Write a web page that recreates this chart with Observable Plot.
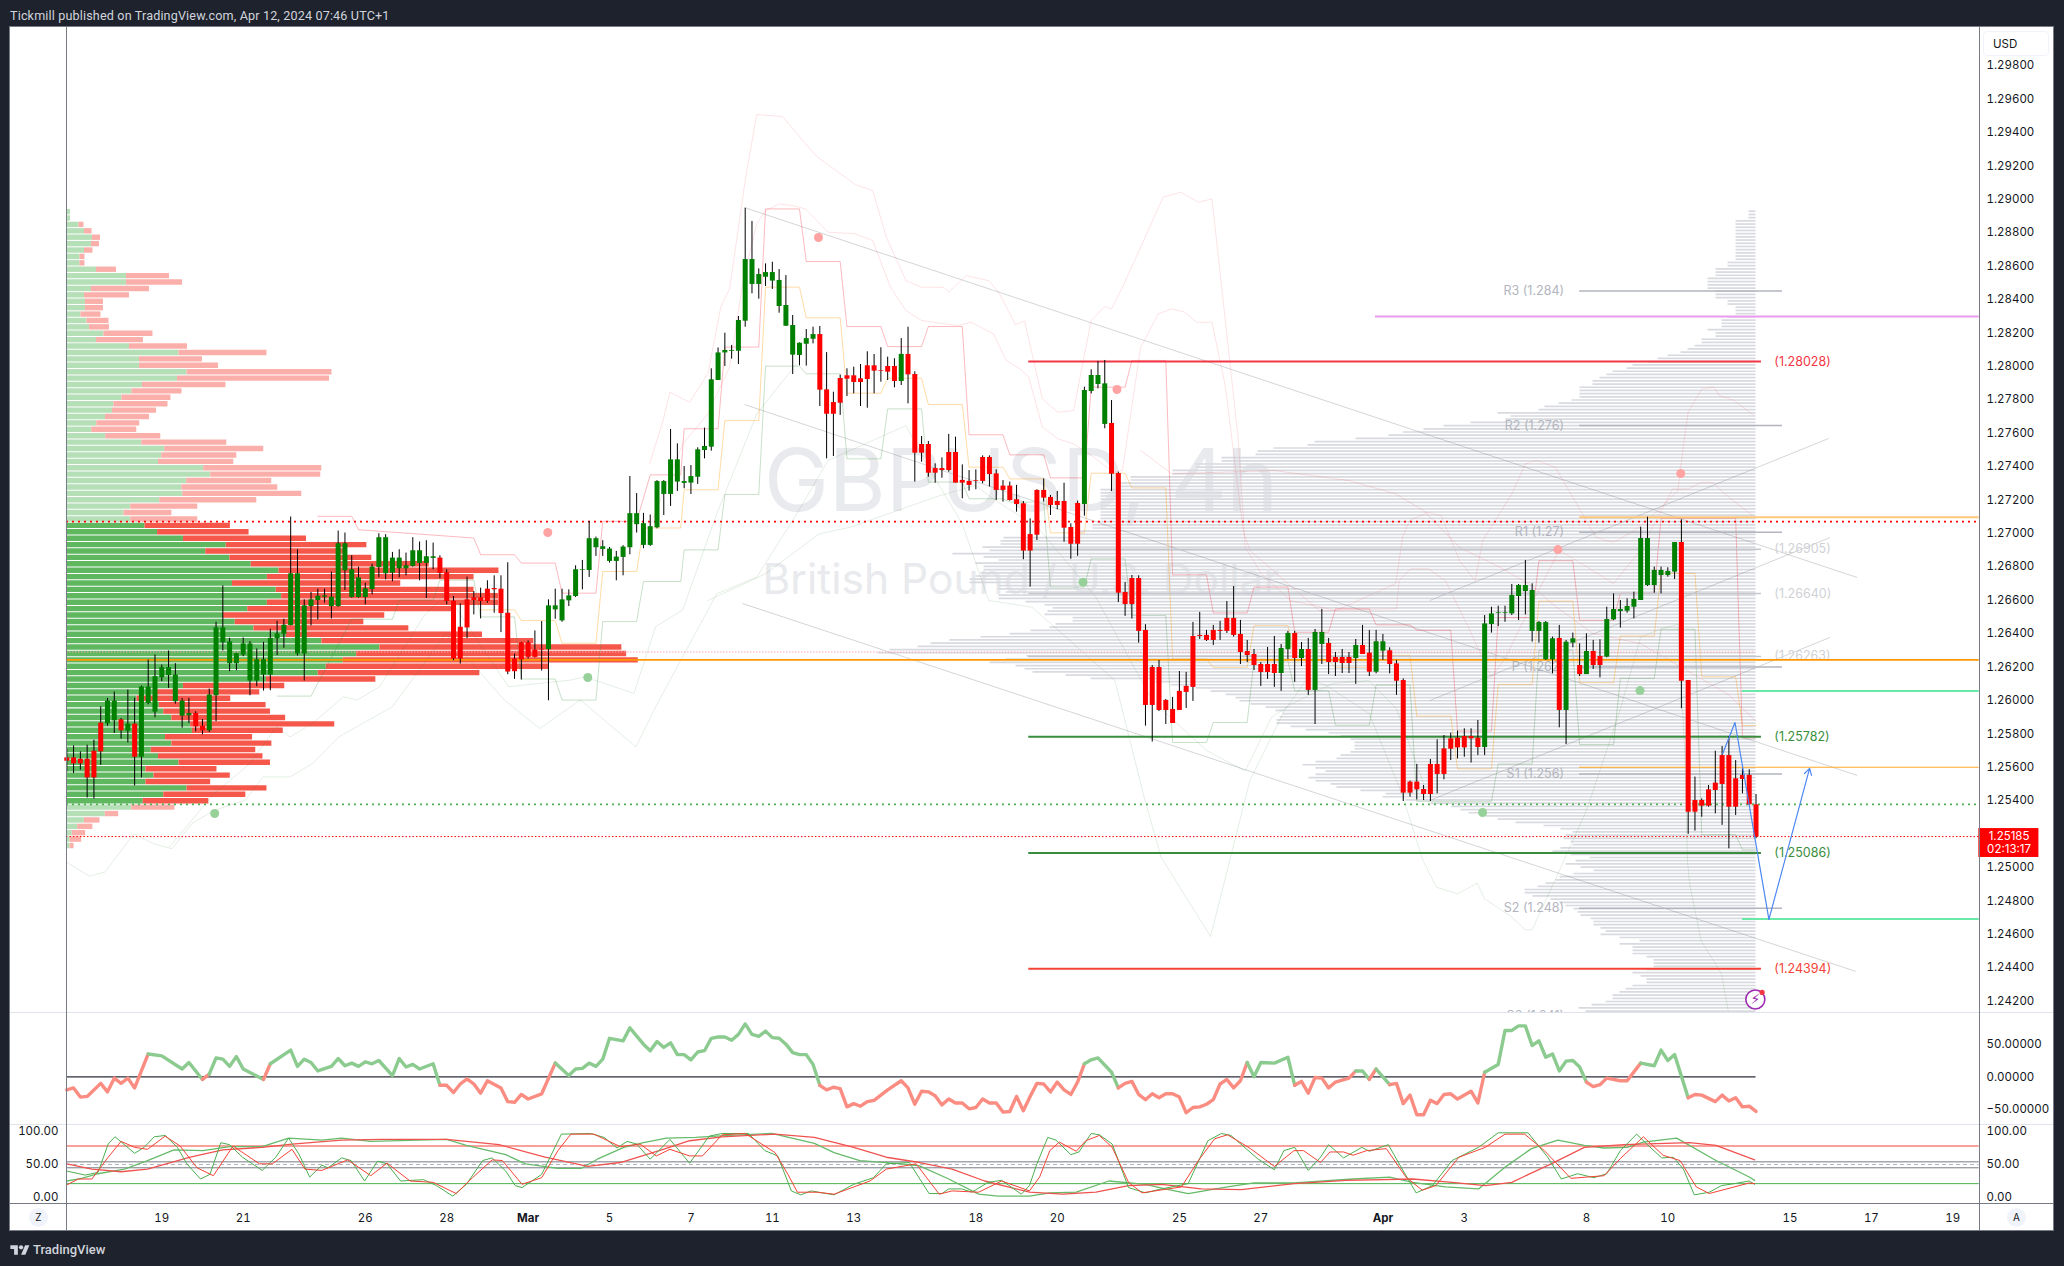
<!DOCTYPE html>
<html><head><meta charset="utf-8">
<script src="https://cdn.jsdelivr.net/npm/d3@7"></script>
<script src="https://cdn.jsdelivr.net/npm/@observablehq/plot@0.6"></script>
<style>
html,body{margin:0;padding:0;background:#1e222d;width:2064px;height:1266px;overflow:hidden;font-family:Inter,sans-serif}
.abs{position:absolute}
#chart{left:10px;top:27px;width:2043px;height:1203px;background:#fff}
</style></head><body>
<div class="abs" style="left:10px;top:8px;color:#d1d4dc;font:12.6px Roboto,sans-serif;letter-spacing:.15px;white-space:nowrap">Tickmill published on TradingView.com, Apr 12, 2024 07:46 UTC+1</div>
<div class="abs" id="chart"></div>
<div class="abs" id="panels" style="left:0;top:0;width:2064px;height:1266px"></div>
<div class="abs" style="left:9px;top:26px;width:2043px;height:1203px;border:1px solid #787b86;pointer-events:none"></div>
<div class="abs" style="left:10px;top:1012px;width:2043px;height:1px;background:#e0e3eb"></div>
<div class="abs" style="left:10px;top:1124px;width:2043px;height:1px;background:#e0e3eb"></div>
<div class="abs" style="left:10px;top:1203px;width:2043px;height:1px;background:#787b86"></div>
<div class="abs" style="left:65.5px;top:27px;width:1px;height:1203px;background:#787b86"></div>
<div class="abs" style="left:1979px;top:27px;width:1px;height:1203px;background:#787b86"></div>
<div class="abs" style="left:1983px;top:31px;width:66px;height:25px;background:#fff;border:1px solid #f0f3fa;border-radius:4px;color:#131722;font-size:11.5px;line-height:25px;text-indent:9px;box-sizing:border-box">USD</div>
<div class="abs" style="left:29px;top:1208px;width:19px;height:19px;border-radius:50%;background:#f0f3fa;color:#131722;font-size:10px;line-height:19px;text-align:center">Z</div>
<div class="abs" style="left:2007px;top:1208px;width:19px;height:19px;border-radius:50%;background:#f0f3fa;color:#131722;font-size:10px;line-height:19px;text-align:center">A</div>
<svg class="abs" style="left:10px;top:1243px" width="20" height="15" viewBox="0 0 36 28"><path fill="#d1d4dc" d="M14 22H7V11H0V4h14v18zM28 22h-8l7.5-18h8L28 22z"/><circle fill="#d1d4dc" cx="20" cy="8" r="4"/></svg>
<div class="abs" style="left:33px;top:1242px;color:#d1d4dc;font:500 13px Roboto,sans-serif">TradingView</div>
<script>
// Candles, in 1/100000 of a dollar
const bodyTop=[125656,125656,125648,125648,125696,125864,125996,125996,125884,125858,125858,126080,126080,126142,126196,126196,126152,125996,125922,125922,125846,126032,126434,126434,126350,126280,126338,126338,126244,126244,126372,126398,126450,126758,126758,126566,126602,126624,126626,126618,126938,126938,126782,126734,126668,126798,126974,126974,126852,126852,126806,126896,126896,126860,126860,126852,126764,126594,126438,126602,126614,126614,126666,126670,126666,126522,126248,126344,126344,126302,126306,126566,126566,126602,126626,126782,126782,126968,126968,126920,126906,126858,126918,127118,127118,127058,127040,
127310,127310,127440,127440,127310,127340,127500,127520,127919,128080,128095,128095,128274,128639,128639,128549,128561,128561,128514,128364,128244,128138,128166,128190,128190,127859,127783,127927,127943,127943,127925,128003,128003,127975,127999,127999,128071,128071,127951,127532,127532,127388,127388,127484,127484,127317,127311,127315,127454,127454,127356,127283,127283,127201,127177,126993,127257,127257,127215,127191,127191,127035,127179,127855,127945,127945,127895,127658,127358,
126646,126730,126730,126419,126197,126197,126000,125946,126054,126084,126383,126389,126389,126419,126419,126491,126491,126395,126293,126275,126215,126215,126215,126311,126401,126401,126305,126305,126407,126407,126341,126257,126257,126257,126329,126329,
126283,126351,126351,126297,126219,126119,125511,125511,125467,125617,125617,125710,125770,125774,125784,125784,125774,126458,126518,126526,126526,126628,126688,126688,126658,126466,126466,126369,126371,126349,126369,126209,126293,126293,126263,126484,126544,126544,126562,126604,126969,126969,126778,126778,126772,126945,126945,126119,125401,125401,125465,125505,125670,125670,125531,125551,125551,125375];
const bodyBottom=[125636,125620,125620,125536,125536,125692,125860,125878,125818,125816,125660,125660,125982,125930,126136,126148,125992,125906,125908,125842,125818,125818,126028,126346,126220,126220,126272,126116,126116,126152,126152,126370,126396,126448,126278,126278,126562,126598,126618,126562,126562,126776,126616,126616,126616,126664,126796,126758,126762,126788,126788,126802,126820,126820,126850,126760,126592,126248,126248,126434,126598,126592,126592,126662,126520,126170,126172,126242,126258,126258,126302,126304,126542,126476,126596,126622,126778,126778,126914,126904,126832,126832,126856,126914,127052,126928,126928,
127033,127233,127233,127307,127299,127301,127336,127496,127516,127915,128080,128090,128090,128270,128490,128490,128533,128510,128358,128240,128067,128065,128132,128162,127857,127713,127713,127779,127923,127903,127903,127921,127971,127971,127965,127909,127909,127949,127480,127480,127360,127360,127376,127376,127301,127301,127287,127311,127311,127352,127257,127257,127197,127173,126894,126894,126989,127211,127167,127167,127031,126935,126935,127173,127849,127891,127652,127354,126642,
126574,126574,126413,125970,125970,125940,125940,125862,125940,126048,126078,126383,126359,126359,126413,126413,126389,126287,126269,126209,126167,126167,126161,126161,126305,126251,126251,126060,126060,126335,126227,126227,126221,126221,126251,126275,
126169,126169,126295,126215,126115,125445,125445,125465,125437,125437,125557,125557,125708,125716,125716,125770,125718,125718,126454,126522,126522,126518,126622,126652,126413,126413,126243,126243,125940,125940,126343,126155,126155,126209,126209,126259,126482,126532,126534,126558,126598,126688,126688,126748,126748,126768,126115,125331,125331,125367,125367,125461,125497,125361,125361,125527,125375,125182];
const high=[125708,125728,125692,125732,125762,125962,126012,126050,125892,126062,126014,126086,126242,126272,126212,126296,126220,126012,126012,125932,125886,126068,126468,126686,126372,126282,126374,126352,126308,126348,126426,126474,126486,127098,126902,126602,126646,126666,126666,126768,127014,127002,126866,126798,126702,126816,126998,126992,126886,126902,126882,126974,126948,126956,126942,126866,126782,126622,126578,126738,126652,126672,126716,126746,126746,126824,126278,126348,126356,126416,126472,126602,126666,126666,126662,126806,126838,127072,126978,126956,126916,126892,126926,127340,127238,127120,127110,
127316,127316,127622,127536,127400,127406,127512,127630,127985,128110,128198,128125,128298,128946,128867,128583,128613,128623,128579,128543,128304,128140,128220,128234,128238,128082,127845,127947,127985,127995,128011,128087,128071,128111,128055,128045,128166,128234,127967,127580,127550,127416,127452,127592,127576,127410,127376,127380,127464,127464,127380,127316,127307,127287,127191,127087,127261,127326,127227,127251,127300,127057,127193,127875,127979,128029,128035,127795,127366,
126706,126748,126746,126453,126209,126239,126006,126018,126173,126168,126467,126527,126419,126449,126473,126592,126682,126479,126359,126305,126227,126317,126383,126335,126413,126413,126347,126371,126425,126545,126371,126287,126305,126287,126365,126449,
126419,126419,126395,126315,126239,126129,125517,125617,125491,125647,125764,125790,125804,125816,125830,125830,125880,126508,126558,126564,126564,126694,126694,126838,126698,126472,126472,126379,126449,126359,126403,126339,126399,126359,126363,126558,126638,126598,126608,126648,127037,127097,126798,126798,126794,126945,127081,126119,125541,125411,125491,125696,125724,125784,125640,125591,125585,125437];
const low=[125572,125562,125582,125416,125410,125612,125846,125802,125768,125746,125488,125536,125974,125896,126112,126072,125978,125834,125862,125812,125794,125808,125872,126296,126172,126178,126262,126028,126082,126056,126058,126268,126312,126446,126266,126116,126446,126482,126582,126488,126558,126658,126612,126612,126572,126632,126734,126722,126710,126734,126746,126798,126716,126610,126782,126728,126572,126238,126218,126370,126512,126488,126582,126522,126406,126154,126126,126122,126248,126254,126176,125998,126486,126468,126562,126616,126662,126736,126862,126862,126822,126716,126746,126872,127002,126908,126922,
127027,127107,127161,127251,127267,127233,127293,127446,127492,127915,127999,128043,128011,128234,128434,128402,128478,128460,128318,128238,127951,128003,128001,128134,127759,127446,127460,127706,127819,127835,127759,127749,127835,127905,127915,127871,127885,127775,127307,127426,127336,127300,127330,127366,127301,127207,127253,127261,127297,127277,127197,127187,127193,127127,126842,126678,126957,127187,127107,127141,126947,126845,126863,127103,127835,127865,127626,127251,126586,
126503,126487,126343,125846,125751,125934,125856,125862,125940,125952,125994,126365,126353,126329,126359,126401,126379,126215,126227,126179,126084,126126,126078,126054,126245,126108,126203,126030,125856,126215,126155,126143,126161,126161,126096,126275,
126143,126159,126239,126159,126030,125395,125421,125405,125401,125395,125441,125525,125640,125650,125660,125625,125670,125670,126403,126442,126468,126508,126478,126512,126349,126343,126239,126159,125836,125736,126315,126143,126155,126185,126135,126255,126478,126433,126522,126488,126598,126682,126642,126638,126738,126724,125950,125198,125218,125301,125361,125321,125252,125112,125311,125441,125371,125172];
const candleColourRuns=[["r",6],["g",2],["r",1],["g",1],["r",1],["g",8],["r",2],["g",34],["r",16],["g",40],["r",12],["g",1],["r",26],["g",4],["r",25],["g",2],["r",1],["g",1],["r",1],["g",2],["r",4],["g",1],["r",2],["g",2],["r",14],["g",11],["r",1],["g",2],["r",1],["g",1],["r",2],["g",11],["r",12]];

// Session volume profile on the left: up volume, down volume per price bin
const sessionBinTop=1.28926, sessionBinStep=0.0003833;
const upVolume=[4,4,12.5,18,26,25,18,13.5,13.5,30,60,60,25,18,19,19,14.5,20.5,23,37.5,30,63,112.5,73,73,120.5,111,76,65.5,55.5,47.5,46,39,30.3,25.3,39.3,75.3,98.3,95.3,92,137.3,144.3,120.3,115.3,116.3,93.3,64.3,57.6,64.3,78.6,91.1,117,159.8,139.3,163.4,184.8,212.5,200.9,166,209.8,215.2,200.9,181.3,157.1,168.8,187.5,220,255.4,313.4,290.2,276.8,259.8,251.8,200,117,90.6,70.5,92.9,97.3,105.4,124.1,125.9,99.1,105.4,84.8,92,112.5,79.5,87.5,79.5,120.5,97.3,76.8,65.2,38.8,17.9,11.2,5.8,3.6,3.6];
const downVolume=[0,0,5,7.6,8,8,8.5,5,5,20,43,56,58,45,18,18,20,22,20,49,47,58,88,63,79,145,152,83.5,50,49,54,44,44,43,45,55,85,99,75,75.3,118,110,85,96,119,97,67,47.8,67,85.3,91.5,123,140.6,138.4,142,178,220,206.7,168.3,197.8,217,231.3,204,161.2,128.6,154.9,196,212,242,270,295,222.8,161.6,109.4,101.3,102.7,93.8,106.7,106.7,113.8,144.2,90.9,87,100,104.5,104.5,91.5,71,76.3,64.7,80,82.1,65.6,43.3,13.4,15.6,15.2,13.4,11.6,4];
const valueAreaFirstBin=49, valueAreaLastBin=92;

// Fixed-range volume profile on the right
const rangeBinTop=1.28928, rangeBinStep=0.0001915;
const rangeVolume=[7,7,7,20,20,20,20,20,20,20,20,20,20,20,20,20,28,28,40,40,40,48,48,48,48,40,40,40,28,28,20,20,20,28,34,34,34,48,40,40,54,54,61,68,75,88,98,108,123,129,143,149,156,163,163,176,176,176,176,184,197,211,217,258,245,250,285,312,332,353,367,400,441,448,482,498,500,534,534,560,560,583,583,625,625,640,640,655,655,655,655,655,655,655,655,655,655,655,663,663,677,677,752,755,755,773,766,803,772,757,
780,772,772,775,780,786,786,757,757,750,757,757,730,711,703,708,711,683,683,700,706,725,746,775,806,825,838,866,878,729,750,766,740,731,723,690,665,600,585,560,545,530,520,516,505,490,480,473,476,479,479,465,450,427,415,405,401,401,401,405,415,419,440,453,440,430,440,447,440,425,419,395,370,373,350,325,304,295,287,270,258,240,212,195,183,190,192,185,183,195,203,185,166,180,190,175,162,182,196,200,210,218,231,231,223,205,196,190,182,178,175,165,162,162,155,150,155,136,116,136,123,123,123,109,102,102,102,110,123,115,109,109,123,130,136,143,143,150,164,177,170];

// Horizontal levels
const levelValues=[1.28028,1.25782,1.25086,1.24394];
const levelColours=["#f23645","#388e3c","#388e3c","#f44336"];
const fadedLevelValues=[1.26905,1.2664,1.26263];
const pivotNames=["R3 (1.284)","R2 (1.276)","R1 (1.27)","P (1.262)","S1 (1.256)","S2 (1.248)","S3 (1.241)"];
const pivotValues=[1.2845,1.27645,1.27006,1.262,1.2556,1.24756,1.2411];
const mainOrange=1.26243, redDotted=1.2707, greenDotted=1.25378, lastPrice=1.25185, pinkDotted=1.2629;
const magentaLevel=1.28298, softOrange=1.27096, thinOrange=1.256, tealLevels=[1.26056,1.24691];

// Pale envelopes and stepped channels: [bar, price]
const upperEnvelope=[[85.9,127415],[87.9,127676],[88.9,127845],[91.8,127785],[94.5,127955],[96.4,128354],[97.7,128464],[100,129112],[101.7,129507],[105.5,129495],[110.4,129261],[116.2,129088],[118.8,129052],[120.8,128773],[123.7,128513],[126,128473],[129.3,128473],[130,128444],[132.6,128543],[135.9,128513],[137.5,128434],[139.8,128250],[141.2,128270],[143.8,127805],[146.1,127725],[148.4,127735],[151,128274],[153,128358],[154,128344],[155.6,128473],[158.3,128713],[161.6,129012],[164.2,129042],[166.8,128982],[168.8,129002],[170.4,128414],[172.7,127554],[173.7,126917],[176.1,126758],[180.4,126598],[187.1,126538],[195.9,126700],[196.9,126976],[197.9,127076],[200.6,127126],[202.6,127106],[205.3,126836],[207.6,126716],[208.7,126956],[213,127236],[215,127416],[216.7,127436],[219.4,127396],[222,127216],[225.4,126976],[228,126946],[231,127016],[234,127116],[237.5,127256],[238.3,127526],[239,127725],[241,127865],[242.8,127875],[243.6,127825],[245.8,127795],[248.7,127705]];
const innerEnvelope=[[85.9,127037],[90.8,127536],[94.5,127715],[97.7,127995],[99.7,128514],[101.7,128853],[103,128932],[105,128972],[107,128962],[108.9,128942],[112.2,128803],[116.2,128793],[118.8,128753],[121.4,128474],[123.7,128334],[126,128274],[131.3,128244],[133.3,128264],[136.6,128194],[138.5,128035],[140.5,127985],[141.8,127935],[143.8,127636],[146.1,127566],[148.4,127536],[150.7,127476],[154.3,127366],[155.6,127376],[158.3,128115],[160.9,128314],[162.9,128344],[164.8,128324],[166.5,128264],[168.8,128264],[170.8,127875],[173.4,127017],[174.4,126897],[184.6,126538],[196,126548],[196.4,126718],[198.1,126788],[200.7,126788],[203.2,126718],[206.6,126438],[210,126139],[212,126250],[215,126500],[220,126900],[228,126700],[232,126900],[236.7,127266],[239,127266],[241,127306],[242.6,127306],[244.7,127226],[248.5,127107]];
const basisEnvelope=[[158.3,127496],[162.9,127356],[178,127376],[189,127316],[195.9,127236],[200,127136],[205.3,126916],[211.3,126796],[216,126686],[219,126576],[225,126400],[232,126340],[244.9,126036],[249,125876]];
const lowerEnvelope=[[0,125032],[3.3,124948],[5.6,124972],[9.9,125202],[12.8,125142],[15.5,125112],[18.4,125262],[21.7,125342],[26.3,125402],[28.9,125542],[32.9,125542],[36.2,125622],[40.1,125782],[48,125962],[55.9,126402],[64.5,126002],[69.7,125832],[75.7,126002],[83.9,125722],[86.8,125962],[95.8,126638],[101.7,126738],[107.6,127117],[112.2,127436],[118.8,127556],[123.7,127645],[126.7,127416],[132,127057],[135.9,126598],[142.3,126558],[154.5,126119],[158.8,125421],[161.3,125061],[168.6,124587],[174.4,125521],[179.5,125940],[183,126139],[186,126080],[192,125920],[196.8,125441],[199.9,125042],[201.9,124882],[205,124842],[207.9,124906],[209,124813],[213,124703],[215,124627],[216,124627],[220.7,125042],[224,125341],[228.8,125920],[232,126379],[234.8,126426],[237.5,126456],[238.5,125700],[238.9,125042],[239.2,124903],[240.9,124563],[243.9,124364],[244.9,124144]];
const secondLowerEnvelope=[[15.1,125122],[21.7,125442],[27,125622],[30.9,125842],[32.9,125782],[36.2,125862],[40.8,126022],[42.8,126002],[46.1,126082],[52.6,126502],[55.9,126642],[65.1,126082],[74.3,126122],[76.3,126142],[83.6,126042],[86.8,126442],[90.8,126542],[95.8,127117],[101.7,127715],[105.6,127915],[107.6,128015]];
const thirdLowerEnvelope=[[94.5,126598],[103,126758],[110.9,126997],[115.5,127037],[128,127217],[133.9,127287],[136.9,127197],[143.1,127037],[151.7,126617],[160,126000],[168,125700],[173.7,125578],[177.6,125900],[180.6,125980],[186.5,126100],[191.9,126120],[196,125950],[200,125500]];
// [first bar, last bar, price]
const stepUpper=[[37,42,127102],[43,43,127022],[60,60,126972],[61,66,126872],[67,72,126822],[73,78,126642],[79,84,127072],[86,90.5,127350],[91,96,127626],[97,102,128115],[103,108,128942],[109,114,128627],[115,120,128238],[121,126,128118],[127,132,128238],[133,138,127590],[139,144,127470],[145,150,127332],[151,156,127875],[157,162,128035],[163,168,126752],[169,174,126524],[175,180,126678],[181,186,126408],[187,192,126548],[193,198,126452],[199,204,126420],[205,210,125816],[211,216,126496],[217,222,126836],[223,228,126480],[229,234,126642],[235,246,127090],[247,249,125776]];
const stepMiddle=[[61,66,126542],[67,72,126478],[73,78,126342],[79,84,126772],[85,90.5,127032],[91,96,127261],[97,102,127675],[103,108,128474],[109,114,128290],[115,120,127839],[121,126,127929],[127,132,127771],[133,138,127396],[139,144,127326],[145,150,127003],[151,156,127360],[157,162,127272],[163,168,126248],[169,174,126198],[175,180,126448],[181,186,126238],[187,192,126198],[193,198,126270],[199,204,125906],[205,210,125590],[211,216,126096],[217,222,126594],[223,228,126106],[229,234,126386],[235,240,126760],[241,246,126142],[247,249,125850]];
const stepLower=[[31,36,126026],[42,48,126486],[49,54,126600],[55,60,126720],[61,66,126500],[67,72,126128],[73,78,126002],[79,84,126472],[85,90.5,126712],[91,96,126901],[97,102,127233],[103,108,128001],[109,114,127955],[115,120,127446],[121,126,127745],[127,132,127307],[133,138,127207],[139,144,127187],[145,150,126678],[151,156,126848],[157,162,126508],[163,168,125748],[169,174,125868],[175,180,126238],[181,186,126058],[187,192,125852],[193,198,126092],[199,204,125396],[205,210,125396],[211,216,125620],[217,222,126300],[223,228,125736],[229,234,126132],[235,240,126426],[241,246,125196],[247,249,125106]];
// Trend lines: [bar, price, bar, price]
const trendLines=[[99.9,128950,263.9,126736],[99.9,127771,263.9,125551],[99.6,126580,263.7,124378],[200.9,126598,259.7,127568],[200.9,125999,259.9,126975],[200.9,125401,259.9,126377]];
const forecastPath=[[244.1,125682],[245.9,125868],[250.9,124689]];
const forecastArrow=[250.9,124689,256.9,125593];
const redMarkers=[[110.8,128771],[154.8,127861],[70.9,127005],[219.8,126903],[237.9,127358]];
const greenMarkers=[[21.8,125323],[76.8,126137],[149.8,126708],[231.9,126059],[208.7,125329]];

// Momentum oscillator
const oscillator=[[0,-20],[1,-17],[2,-31],[3,-30],[5,-10],[6,-23],[7,-2],[8,-10],[9,-2],[10,-17],[12,35],[14,32],[17,12],[18,22],[20,-4],[21,4],[22,29],[23,27],[24,16],[25,31],[26,12],[29,-4],[30,20],[33,41],[34,16],[35,27],[36,22],[37,9],[39,16],[40,28],[41,17],[42,21],[43,16],[44,23],[45,20],[46,25],[48,2],[49,28],[50,15],[51,19],[52,12],[54,20],[55,-13],[56,-13],[57,-24],[58,-11],[59,-3],[60,-11],[61,-25],[62,-6],[64,-17],[65,-38],[66,-39],[67,-27],[68,-34],[70,-26],[72,21],[74,2],[75,12],[76,13],[77,21],[78,16],[79,27],[80,59],[82,55],[83,75],[85,50],[86,40],[87,54],[88,45],[89,52],[90,34],[91,34],[92,26],[93,38],[94,40],[95,59],[96,61],[97,61],[98,56],[99,65],[100,81],[101,65],[102,62],[103,70],[104,60],[105,59],[106,50],[107,37],[108,34],[109,34],[110,19],[111,-13],[112,-20],[113,-16],[114,-18],[115,-46],[116,-41],[117,-45],[118,-38],[119,-36],[121,-20],[123,-6],[124,-17],[125,-42],[126,-22],[127,-23],[128,-29],[129,-43],[130,-34],[131,-40],[132,-40],[133,-49],[134,-47],[135,-34],[136,-40],[137,-40],[138,-54],[139,-53],[140,-30],[141,-52],[142,-30],[143,-10],[144,-11],[145,-23],[146,-8],[147,-20],[148,-27],[149,-8],[150,20],[151,26],[152,29],[154,7],[155,-17],[156,-10],[157,-7],[158,-27],[159,-35],[160,-26],[161,-32],[162,-26],[163,-26],[164,-31],[165,-55],[166,-47],[167,-46],[168,-42],[169,-35],[170,-11],[171,-4],[172,-17],[173,-6],[174,22],[175,0],[176,22],[178,21],[180,30],[181,-13],[182,-7],[183,-25],[184,-1],[185,-2],[186,-17],[187,-8],[189,-2],[190,9],[191,9],[192,-4],[193,12],[195,-12],[196,-10],[197,-41],[198,-28],[199,-58],[200,-58],[201,-36],[202,-41],[203,-27],[204,-26],[205,-34],[207,-22],[208,-40],[209,7],[211,19],[212,71],[213,71],[214,78],[215,78],[216,48],[217,55],[218,30],[219,35],[220,9],[221,24],[222,25],[223,15],[224,-8],[225,-15],[226,-12],[227,-2],[229,-6],[230,-6],[232,21],[234,17],[235,41],[236,25],[237,34],[239,-32],[240,-27],[241,-28],[243,-38],[244,-28],[245,-37],[246,-32],[247,-46],[248,-45],[249,-53]];

// Stochastic panel
const stochFastGreen=[[0,40],[2.7,34],[4.6,38],[6.1,81],[7.1,92],[10,67],[11.4,76],[12.9,92],[14.5,94],[16.3,76],[17.7,51],[19.7,28],[21.1,35],[22.7,83],[24,80],[25.9,61],[28.8,41],[30.8,61],[32.7,90],[34.2,66],[35.8,31],[37.6,49],[38.5,45],[40.5,60],[41.9,56],[43.9,25],[45.8,55],[47.2,51],[49.2,25],[52.6,27],[54.5,18],[56.9,2],[58.9,20],[61.3,56],[62.7,60],[64.7,40],[66.1,18],[67.1,15],[70,35],[72.9,96],[77.2,97],[79.2,91],[81.1,75],[82.6,85],[84,81],[86,58],[88.9,88],[91.8,52],[94.7,93],[96.6,97],[100.5,97],[102.9,71],[104.8,63],[106.8,10],[108.2,4],[109.7,10],[113.1,4],[116,20],[118.9,30],[120.8,51],[124.2,53],[127.1,6],[129,6],[130,13],[131.9,13],[133.4,8],[135.8,23],[137.8,26],[140.7,5],[141.9,18],[143,51],[144.6,91],[145.8,87],[148,65],[149.2,69],[151,97],[152.2,95],[154.1,81],[156.5,15],[159,7],[160.9,12],[165.3,21],[168.2,86],[170.2,97],[171.6,94],[175.5,59],[178,42],[179.4,71],[181,76],[183,41],[184.8,61],[186,80],[188.2,60],[190.9,76],[192,70],[194.8,80],[196.4,51],[198.9,7],[201.3,18],[204.2,56],[208.1,76],[211,98],[215.4,98],[218.3,61],[220.3,28],[222.7,36],[225.1,30],[227,36],[229,71],[231.4,96],[232.9,81],[235.1,60],[236.8,61],[238.3,43],[239.9,4],[242.1,8],[243.9,18],[245.8,21],[248,25],[248.8,20]];
const stochFastRed=[[0,19],[1.7,28],[3.7,28],[6.1,61],[8,85],[10,76],[11.9,73],[14.5,93],[16.7,78],[19.2,45],[21.6,33],[24.5,78],[28.4,51],[30.3,51],[33.2,73],[35.1,43],[37.6,41],[41.4,57],[44.8,33],[47.2,52],[50.6,25],[54,23],[57.4,6],[59.8,30],[62.7,57],[64.2,56],[67.1,20],[70,30],[72.4,71],[74.3,96],[77.7,96],[81.6,77],[84.5,81],[86.9,63],[88.9,73],[91.8,63],[93.7,63],[96.6,95],[100,97],[104.4,68],[106.3,35],[107.7,8],[110.6,8],[113.1,5],[118.4,25],[120.8,43],[125.2,51],[128.6,5],[130.5,10],[134.4,8],[137.8,25],[141.9,10],[143.4,31],[144.9,71],[146.3,84],[148.8,70],[150.2,86],[152.2,94],[154.1,76],[156.5,23],[158.5,7],[164.3,16],[166.8,56],[169.2,89],[171.1,95],[174.5,74],[178,47],[180.9,71],[182.3,71],[184.8,53],[186.2,69],[188.2,69],[189.6,64],[191.6,71],[194.5,74],[197.4,31],[199.8,11],[201.8,18],[205.2,61],[209.1,76],[212,96],[214.9,96],[217.8,71],[221.7,29],[226.6,33],[229,59],[232.4,92],[235.3,64],[237.8,56],[240.2,16],[242.1,6],[248,22],[248.8,21]];
const stochSlowGreen=[[0,25],[2.2,29],[4.6,36],[8.5,43],[11.9,56],[15.8,72],[20.1,71],[24,77],[28.8,77],[32.7,90],[37.6,87],[40.5,90],[44.8,85],[56,88],[58.9,79],[64.7,65],[67.6,51],[72.4,44],[75.8,44],[78.2,58],[82.1,76],[85,83],[88.4,90],[92.7,91],[97.6,94],[103.9,97],[110.2,82],[113.1,68],[116.9,56],[121.8,52],[125.7,48],[130,28],[134.4,5],[137.3,2],[141.9,2],[144.9,7],[148.8,8],[153.6,25],[159,20],[161.9,13],[165.3,6],[171.1,16],[175,22],[180.9,22],[189.6,28],[195,31],[198.4,23],[203.2,16],[208.1,13],[212,46],[215.9,74],[219.8,87],[223.7,79],[226.6,75],[230,76],[232.4,84],[237.3,90],[243.1,56],[248,31],[248.8,26]];
const stochSlowRed=[[0,51],[3.7,43],[8,39],[11.9,43],[18.2,61],[23,72],[28.8,76],[33.2,81],[40.5,87],[46.3,88],[56,88],[63.7,80],[70.5,61],[76.8,47],[81.6,53],[87.9,73],[91.8,86],[96.6,92],[104.4,96],[110.2,91],[116,76],[120.8,61],[125.7,53],[130.5,43],[135.3,25],[141.9,8],[146.8,5],[151.7,8],[156.5,18],[161.4,20],[167.2,13],[173.1,12],[180.9,21],[188.6,26],[198.4,28],[204.2,23],[209.1,18],[213,23],[218.8,51],[223.7,76],[229.5,80],[239.2,83],[243.1,79],[248.8,57]];
const stochUpper=78, stochLower=21, stochBandHigh=54, stochBandLow=45, stochMiddle=50;

// Axis labels
const priceTicks=d3.range(1.242,1.2985,0.002);
const dateLabels=["19","21","26","28","5","7","11","13","18","20","25","27","3","8","10","15","17","19"];
const dateTickBars=[14,26,44,56,80,92,104,116,134,146,164,176,206,224,236,254,266,278];
const monthTicks=[68,194], monthLabels=["Mar","Apr"];

const BAR_PX=6.784, LEFT=66.3;
const FONT="Inter, sans-serif", LAST=281.9, FIRST=-0.05, LEVEL_END=249.8;
const p5=v=>v/1e5;
const pts=a=>a.map(([i,p])=>({i,p:p5(p)}));
const vals=a=>a.map(([i,v])=>({i,v}));
const steps=a=>a.flatMap(([a1,a2,p])=>[{i:a1,p:p5(p)},{i:a2,p:p5(p)}]);
const colours=candleColourRuns.flatMap(([c,n])=>Array(n).fill(c));
const candles=bodyTop.map((t,i)=>({i,top:p5(t),bot:p5(bodyBottom[i]),hi:p5(high[i]),lo:p5(low[i]),c:colours[i]}));
const sessionRows=upVolume.map((u,k)=>({k,p:sessionBinTop-k*sessionBinStep,u,t:u+downVolume[k],va:k>=valueAreaFirstBin&&k<=valueAreaLastBin}));
const rangeRows=rangeVolume.map((v,k)=>({p:rangeBinTop-k*rangeBinStep,v}));
const xv=v=>FIRST+v/BAR_PX;
const xbase={type:"linear",domain:[0,249],range:[LEFT,LEFT+249*BAR_PX],axis:null};
const baseOpts={width:2064,marginLeft:66,marginRight:85,marginTop:0,marginBottom:0,x:xbase,style:{background:"transparent",fontFamily:FONT,color:"#131722"}};
const hline=(p,o)=>Plot.ruleY([p],{x1:FIRST,x2:LAST,...o});
const thin=(d,s,op)=>Plot.line(d,{x:"i",y:"p",stroke:s,strokeOpacity:op,strokeWidth:1,curve:"linear"});

const main=Plot.plot({...baseOpts,height:984,
  y:{domain:[1.30022,1.24132],range:[0,984],axis:null},
  marks:[
    Plot.axisY({anchor:"right",ticks:priceTicks,tickFormat:d=>d.toFixed(5),tickSize:0,tickPadding:7,fontSize:11.5,label:null,fill:"#131722"}),
    Plot.text(["GBPUSD, 4h"],{frameAnchor:"top",dy:482,lineAnchor:"bottom",fontSize:87,fill:"#e9eaed",dx:-2}),
    Plot.text(["British Pound / U.S. Dollar"],{frameAnchor:"top",dy:565,lineAnchor:"bottom",fontSize:42.5,fill:"#e9eaed",dx:-2}),
    Plot.ruleY(rangeRows,{y:"p",x1:d=>249-d.v/BAR_PX,x2:249,stroke:"#d8dadf",strokeWidth:1.7}),
    Plot.ruleY(sessionRows,{y:"p",x1:FIRST,x2:d=>xv(d.u),stroke:d=>d.va?"#5fb760":"#b5dfb7",strokeWidth:5.4}),
    Plot.ruleY(sessionRows,{y:"p",x1:d=>xv(d.u),x2:d=>xv(d.t),stroke:d=>d.va?"#f6574b":"#fbafaa",strokeWidth:5.4}),
    thin(pts(upperEnvelope),"#f23645",.14),thin(pts(innerEnvelope),"#f23645",.14),thin(pts(basisEnvelope),"#f23645",.16),
    thin(pts(lowerEnvelope),"#2e7d32",.13),thin(pts(secondLowerEnvelope),"#2e7d32",.13),thin(pts(thirdLowerEnvelope),"#2e7d32",.13),
    Plot.link(trendLines,{x1:d=>d[0],y1:d=>p5(d[1]),x2:d=>d[2],y2:d=>p5(d[3]),stroke:"#787b86",strokeOpacity:.32,strokeWidth:1}),
    thin(steps(stepLower),"#388e3c",.28),thin(steps(stepMiddle),"#ff9800",.35),thin(steps(stepUpper),"#f23645",.34),
    Plot.ruleY(pivotValues,{x1:223,x2:252.9,stroke:"#b2b5be",strokeWidth:1.5}),
    Plot.text(pivotValues,{x:220.7,y:d=>d,text:(d,i)=>pivotNames[i],textAnchor:"end",fill:"#b2b5be",fontSize:12.5}),
    Plot.ruleY(fadedLevelValues,{x1:141.8,x2:LEVEL_END,stroke:"#c3c5cc",strokeWidth:1.5}),
    Plot.text(fadedLevelValues,{x:251.7,y:d=>d,text:d=>`(${d.toFixed(5)})`,textAnchor:"start",fill:"#cfd1d6",fontSize:12.5}),
    hline(pinkDotted,{x2:249,stroke:"#f9a8b4",strokeWidth:1,strokeDasharray:"1.5,1.5"}),
    hline(mainOrange,{stroke:"#ff9800",strokeWidth:1.6}),
    hline(lastPrice,{stroke:"#f00",strokeWidth:1,strokeDasharray:"1.5,2"}),
    hline(redDotted,{stroke:"#f00",strokeWidth:1.6,strokeDasharray:"2,4"}),
    hline(greenDotted,{stroke:"#4caf50",strokeWidth:1.6,strokeDasharray:"2,4"}),
    Plot.ruleY([magentaLevel],{x1:192.9,x2:LAST,stroke:"#e99bf0",strokeWidth:2}),
    Plot.ruleY([softOrange],{x1:223,x2:LAST,stroke:"#ffc77a",strokeWidth:2}),
    Plot.ruleY([thinOrange],{x1:223,x2:LAST,stroke:"#ffa726",strokeWidth:1.2}),
    Plot.ruleY(tealLevels,{x1:247,x2:LAST,stroke:"#69e8a8",strokeWidth:2}),
    Plot.ruleY(levelValues,{x1:141.8,x2:LEVEL_END,stroke:(d,i)=>levelColours[i],strokeWidth:2}),
    Plot.text(levelValues,{x:251.7,y:d=>d,text:d=>`(${d.toFixed(5)})`,textAnchor:"start",fill:(d,i)=>levelColours[i],fontSize:12.5}),
    Plot.dot(pts(redMarkers),{x:"i",y:"p",r:4.5,fill:"#ffa3a3"}),
    Plot.dot(pts(greenMarkers),{x:"i",y:"p",r:4.5,fill:"#97d19a"}),
    Plot.ruleX(candles,{x:"i",y1:"hi",y2:"lo",stroke:"#000",strokeWidth:1}),
    Plot.ruleX(candles,{x:"i",y1:"top",y2:"bot",stroke:d=>d.c==="g"?"#008000":"#ff0000",strokeWidth:5}),
    Plot.line(pts(forecastPath),{x:"i",y:"p",stroke:"#4d87f0",strokeWidth:1.2}),
    Plot.arrow([forecastArrow],{x1:d=>d[0],y1:d=>p5(d[1]),x2:d=>d[2],y2:d=>p5(d[3]),bend:0,stroke:"#4d87f0",strokeWidth:1.2,headLength:9}),
    Plot.dot([[248.9,1.2421]],{x:"0",y:"1",r:9.5,stroke:"#9c27b0",strokeWidth:1.6,fill:"#fff"}),
    Plot.text([[248.9,1.2421]],{x:"0",y:"1",text:()=>"⚡",fill:"#9c27b0",fontSize:14,fontFamily:"DejaVu Sans"}),
    Plot.dot([[249.9,1.24252]],{x:"0",y:"1",r:2.6,fill:"#f23645"}),
    Plot.rect([0],{x1:281.85,x2:290.7,y1:1.25233,y2:1.2506,fill:"#ff0000"}),
    Plot.text(["1.25185"],{x:286.3,y:1.25186,fill:"#fff",fontSize:11.5}),
    Plot.text(["02:13:17"],{x:286.3,y:1.25108,fill:"#fff",fontSize:11.5})
  ]});

const osc=Plot.plot({...baseOpts,height:112,
  y:{domain:[98.5,-73],range:[0,112],axis:null},
  marks:[
    Plot.axisY({anchor:"right",ticks:[50,0,-50],tickFormat:d=>d.toFixed(5).replace("-","−"),tickSize:0,tickPadding:7,fontSize:11.5,label:null}),
    Plot.ruleY([0],{x1:FIRST,x2:249,stroke:"#2a2e39",strokeWidth:1.3}),
    Plot.line(vals(oscillator),{x:"i",y:"v",z:null,stroke:d=>d.v>=0?"#8ccb8f":"#fa8c82",strokeWidth:3.4,strokeLinejoin:"round"})
  ]});

const stoch=Plot.plot({...baseOpts,height:106,marginBottom:27,
  y:{domain:[110.6,-9.1],range:[0,79],axis:null},
  marks:[
    Plot.axisY({anchor:"right",ticks:[100,50,0],tickFormat:d=>d.toFixed(2),tickSize:0,tickPadding:7,fontSize:11.5,label:null}),
    Plot.axisY({anchor:"left",ticks:[100,50,0],tickFormat:d=>d.toFixed(2),tickSize:0,tickPadding:8,fontSize:11.5,label:null}),
    Plot.axisX({anchor:"bottom",ticks:dateTickBars,tickFormat:d=>dateLabels[dateTickBars.indexOf(d)],tickSize:0,tickPadding:10,fontSize:11.5,label:null}),
    Plot.axisX({anchor:"bottom",ticks:monthTicks,tickFormat:d=>monthLabels[monthTicks.indexOf(d)],tickSize:0,tickPadding:10,fontSize:11.5,fontWeight:700,label:null}),
    Plot.ruleY([stochUpper],{x1:FIRST,x2:LAST,stroke:"#f44336",strokeWidth:1}),
    Plot.ruleY([stochLower],{x1:FIRST,x2:LAST,stroke:"#4caf50",strokeWidth:1}),
    Plot.ruleY([stochBandHigh,stochBandLow],{x1:FIRST,x2:LAST,stroke:"#787b86",strokeWidth:1}),
    Plot.ruleY([stochMiddle],{x1:FIRST,x2:LAST,stroke:"#b2b5be",strokeWidth:1,strokeDasharray:"4,3"}),
    Plot.line(vals(stochSlowGreen),{x:"i",y:"v",stroke:"#66bb6a",strokeWidth:1.3}),
    Plot.line(vals(stochSlowRed),{x:"i",y:"v",stroke:"#ef5350",strokeWidth:1.3}),
    Plot.line(vals(stochFastGreen),{x:"i",y:"v",stroke:"#4caf50",strokeWidth:1}),
    Plot.line(vals(stochFastRed),{x:"i",y:"v",stroke:"#f44336",strokeWidth:1})
  ]});

const host=document.getElementById("panels");
[[main,28],[osc,1012],[stoch,1124]].forEach(([el,top])=>{el.style.position="absolute";el.style.left="0";el.style.top=top+"px";host.append(el);});
</script>
</body></html>
